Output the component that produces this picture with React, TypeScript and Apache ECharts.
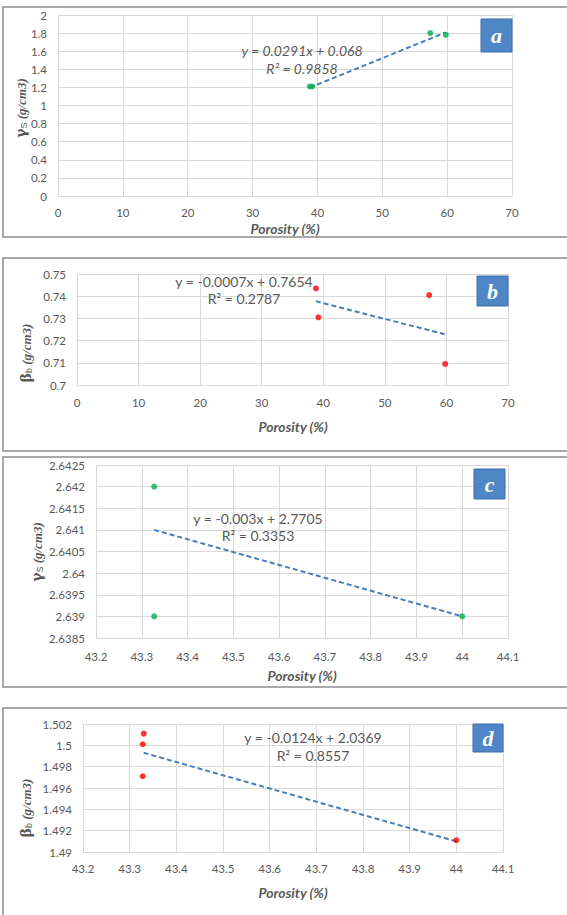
import React, { useEffect, useRef } from "react";
import * as echarts from "echarts";

// Panel a: solid specific gravity vs porosity
const aPorosity = [38.8, 39.2, 57.4, 59.8];
const aGamma = [1.21, 1.21, 1.8, 1.78];
const aTrendX = [38.8, 59.8];
const aTrendY = [1.197, 1.808];
// Panel b: bulk density vs porosity
const bPorosity = [38.8, 39.2, 57.2, 59.8];
const bBeta = [0.7435, 0.7305, 0.7405, 0.7095];
const bTrendX = [38.8, 59.8];
const bTrendY = [0.7377, 0.7228];
// Panel c
const cPorosity = [43.327, 43.327, 44.0];
const cGamma = [2.642, 2.639, 2.639];
const cTrendX = [43.327, 44.0];
const cTrendY = [2.641, 2.639];
// Panel d
const dPorosity = [43.33, 43.328, 43.328, 44.0];
const dBeta = [1.5011, 1.5001, 1.4971, 1.4911];
const dTrendX = [43.33, 44.0];
const dTrendY = [1.4993, 1.491];

const equations = [
  ["y = 0.0291x + 0.068", "R² = 0.9858"],
  ["y = -0.0007x + 0.7654", "R² = 0.2787"],
  ["y = -0.003x + 2.7705", "R² = 0.3353"],
  ["y = -0.0124x + 2.0369", "R² = 0.8557"],
];
const panelLetters = ["a", "b", "c", "d"];
const xTitle = "Porosity (%)";

const zip = (xs: number[], ys: number[]) => xs.map((x, i) => [x, ys[i]]);

const GRID_COLOR = "#d9d9d9";
const LABEL_COLOR = "#595959";
const FONT = "Lato, 'Open Sans', sans-serif";

export default function App() {
  const ref = useRef<HTMLDivElement>(null);
  useEffect(() => {
    if (!ref.current) return;
    const chart = echarts.init(ref.current, undefined, { renderer: "svg" });

    const grids = [
      { left: 58, right: 55, top: 15, height: 181 },
      { left: 77, right: 59, top: 274, height: 111 },
      { left: 96, right: 59, top: 465, height: 173 },
      { left: 83, right: 64, top: 724, height: 128 },
    ];
    const xRanges = [
      { min: 0, max: 70, interval: 10, margin: 10, dec: 0 },
      { min: 0, max: 70, interval: 10, margin: 11, dec: 0 },
      { min: 43.2, max: 44.1, interval: 0.1, margin: 12, dec: 1 },
      { min: 43.2, max: 44.1, interval: 0.1, margin: 10, dec: 1 },
    ];
    const yRanges = [
      { min: 0, max: 2, interval: 0.2, dec: 1 },
      { min: 0.7, max: 0.75, interval: 0.01, dec: 2 },
      { min: 2.6385, max: 2.6425, interval: 0.0005, dec: 4 },
      { min: 1.49, max: 1.502, interval: 0.002, dec: 3 },
    ];

    const axisLabel = (dec: number, margin: number) => ({
      color: LABEL_COLOR,
      fontSize: 11.5,
      fontFamily: FONT,
      margin,
      formatter: (v: number) => String(+v.toFixed(dec)),
    });

    const xAxis = xRanges.map((r, i) => ({
      type: "value",
      gridIndex: i,
      min: r.min,
      max: r.max,
      interval: r.interval,
      axisLine: { show: true, lineStyle: { color: GRID_COLOR, width: 1 } },
      axisTick: { show: false },
      splitLine: { show: true, lineStyle: { color: GRID_COLOR, width: 1 } },
      axisLabel: axisLabel(r.dec, r.margin),
    }));
    const yAxis = yRanges.map((r, i) => ({
      type: "value",
      gridIndex: i,
      min: r.min,
      max: r.max,
      interval: r.interval,
      axisLine: { show: false },
      axisTick: { show: false },
      splitLine: { show: true, lineStyle: { color: GRID_COLOR, width: 1 } },
      axisLabel: axisLabel(r.dec, 11),
    }));

    const pts = [
      { d: zip(aPorosity, aGamma), t: zip(aTrendX, aTrendY), c: "#00b050" },
      { d: zip(bPorosity, bBeta), t: zip(bTrendX, bTrendY), c: "#ff0000" },
      { d: zip(cPorosity, cGamma), t: zip(cTrendX, cTrendY), c: "#00b050" },
      { d: zip(dPorosity, dBeta), t: zip(dTrendX, dTrendY), c: "#ff0000" },
    ];
    const series: any[] = [];
    pts.forEach((p, i) => {
      series.push({
        type: "line",
        xAxisIndex: i,
        yAxisIndex: i,
        data: p.t,
        showSymbol: false,
        symbol: "none",
        lineStyle: { color: "#4a7ebb", width: 2, type: [5, 3] },
        z: 2,
      });
      series.push({
        type: "scatter",
        xAxisIndex: i,
        yAxisIndex: i,
        data: p.d,
        symbol: "circle",
        symbolSize: 6,
        itemStyle: { color: p.c },
        z: 3,
      });
    });

    const graphic: any[] = [];
    // panel frames
    const frames = [
      [3, 7, 237],
      [3, 258, 451],
      [3, 457, 687],
      [3, 708, 935],
    ];
    frames.forEach(([x, y0, y1]) =>
      graphic.push({
        type: "rect",
        shape: { x, y: y0, width: 620, height: y1 - y0 },
        style: { fill: "none", stroke: "#8c8c8c", lineWidth: 1.5 },
        z: 0,
      })
    );
    // letter boxes
    const boxes = [
      [481, 19, 31, 33],
      [477, 276, 31, 30],
      [474, 469, 31, 30],
      [473, 724, 30, 28],
    ];
    boxes.forEach(([x, y, w, h], i) => {
      graphic.push({
        type: "rect",
        shape: { x, y, width: w, height: h },
        style: { fill: "#4f86c6", stroke: "#3d6fae", lineWidth: 1 },
        z: 10,
      });
      graphic.push({
        type: "text",
        x: x + w / 2,
        y: y + h / 2,
        style: {
          text: panelLetters[i],
          fill: "#ffffff",
          font: "italic bold 22px 'Liberation Serif', serif",
          align: "center",
          verticalAlign: "middle",
        },
        z: 11,
      });
    });
    // equations
    const eqPos = [
      [302, 50, 68, true],
      [244, 281, 298, false],
      [258, 518, 535, false],
      [313, 737, 755, false],
    ];
    eqPos.forEach(([x, y1, y2, ital], i) => {
      const font = `${ital ? "italic " : ""}14px ${FONT}`;
      [y1, y2].forEach((yy, k) =>
        graphic.push({
          type: "text",
          x: x as number,
          y: yy as number,
          style: {
            text: equations[i][k],
            fill: LABEL_COLOR,
            font,
            align: "center",
            verticalAlign: "middle",
          },
          z: 12,
        })
      );
    });
    // x titles
    const xt = [
      [285, 228],
      [293, 426],
      [302, 675],
      [293, 892],
    ];
    xt.forEach(([x, y]) =>
      graphic.push({
        type: "text",
        x,
        y,
        style: {
          text: xTitle,
          fill: LABEL_COLOR,
          font: `italic bold 14px ${FONT}`,
          align: "center",
          verticalAlign: "middle",
        },
        z: 12,
      })
    );
    // y titles
    const yt = [
      [21, 108, "γ", "S"],
      [26, 353, "β", "b"],
      [37, 552, "γ", "S"],
      [26, 808, "β", "b"],
    ];
    yt.forEach(([x, y, sym, sub]) =>
      graphic.push({
        type: "text",
        x: x as number,
        y: y as number,
        rotation: Math.PI / 2,
        style: {
          text: `{g|${sym}}{s|${sub}}{t| (g/cm3)}`,
          align: "center",
          verticalAlign: "middle",
          rich: {
            g: {
              fill: "#595959",
              font: "bold 14px 'DejaVu Serif', serif",
            },
            s: {
              fill: "#595959",
              font: "9px 'Liberation Sans', sans-serif",
              padding: [5, 0, 0, 0],
            },
            t: {
              fill: "#595959",
              font: "italic bold 13px 'Liberation Serif', serif",
            },
          },
        },
        z: 12,
      })
    );

    chart.setOption({
      animation: false,
      backgroundColor: "#ffffff",
      grid: grids,
      xAxis,
      yAxis,
      series,
      graphic,
    });
    return () => chart.dispose();
  }, []);

  return (
    <div
      ref={ref}
      style={{ position: "fixed", left: 0, top: 0, width: 567, height: 915 }}
    />
  );
}
